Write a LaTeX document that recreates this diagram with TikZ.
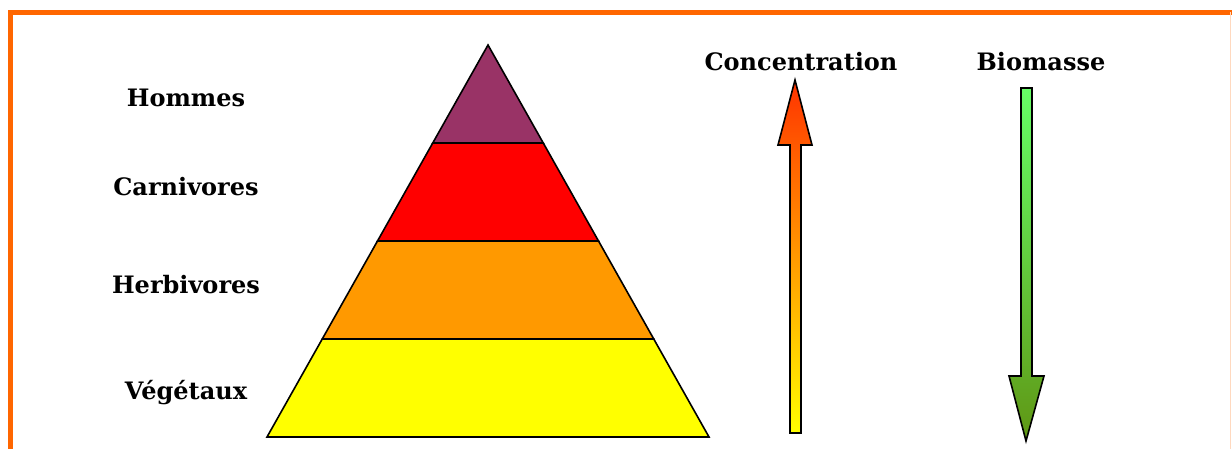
\documentclass[tikz,border=0pt]{standalone}
\usepackage{fontspec}
\setmainfont{DejaVu Serif}
\definecolor{cadre}{HTML}{FF6600}
\definecolor{hommes}{HTML}{993366}
\definecolor{carni}{HTML}{FF0000}
\definecolor{herbi}{HTML}{FF9900}
\definecolor{vege}{HTML}{FFFF00}
\begin{document}
\begin{tikzpicture}[
	x=1pt, y=-1pt, line join=miter, line cap=butt,
	niveau/.style={draw=black, line width=1.6pt},
	etiquette/.style={font=\fontsize{24}{28}\selectfont\bfseries, inner sep=0pt},
	fleche/.style={draw=black, line width=1.6pt}
	]
	\useasboundingbox (0,0) rectangle (1232,449);
	% cadre
	\draw[cadre, line width=5pt] (10.5,449) -- (10.5,12.5) -- (1232,12.5);
	\draw[cadre!25, line width=1pt] (1230,12.5) -- (1230,449);
	% pyramide
	\def\sx{0.5638}
	\coordinate (sommet) at (488,45);
	\coordinate (g1) at ({488-98*\sx},143);  \coordinate (d1) at ({488+98*\sx},143);
	\coordinate (g2) at ({488-196*\sx},241); \coordinate (d2) at ({488+196*\sx},241);
	\coordinate (g3) at ({488-294*\sx},339); \coordinate (d3) at ({488+294*\sx},339);
	\coordinate (g4) at (267,437);           \coordinate (d4) at (709,437);
	\filldraw[niveau, fill=vege] (g3) -- (d3) -- (d4) -- (g4) -- cycle;
	\filldraw[niveau, fill=herbi] (g2) -- (d2) -- (d3) -- (g3) -- cycle;
	\filldraw[niveau, fill=carni] (g1) -- (d1) -- (d2) -- (g2) -- cycle;
	\filldraw[niveau, fill=hommes] (sommet) -- (d1) -- (g1) -- cycle;
	% niveaux
	\node[etiquette] (hom) at (186,98) {Hommes};
	\node[etiquette] (car) at (186,187) {Carnivores};
	\node[etiquette] (her) at (186,285) {Herbivores};
	\node[etiquette] (veg) at (186,393) {Végétaux};
	% fleches
	\node[etiquette] (conc) at (801,62) {Concentration};
	\node[etiquette] (bio) at (1041,62) {Biomasse};
	\path[fleche, top color={rgb,255:red,255;green,51;blue,0}, bottom color=vege]
		(795,80) -- (812,145) -- (801,145) -- (801,433) -- (790,433) -- (790,145) -- (778,145) -- cycle;
	\path[fleche, top color={rgb,255:red,102;green,255;blue,102}, bottom color={rgb,255:red,95;green,150;blue,20}]
		(1021,88) -- (1032,88) -- (1032,376) -- (1044,376) -- (1026,441) -- (1009,376) -- (1021,376) -- cycle;
\end{tikzpicture}
\end{document}
